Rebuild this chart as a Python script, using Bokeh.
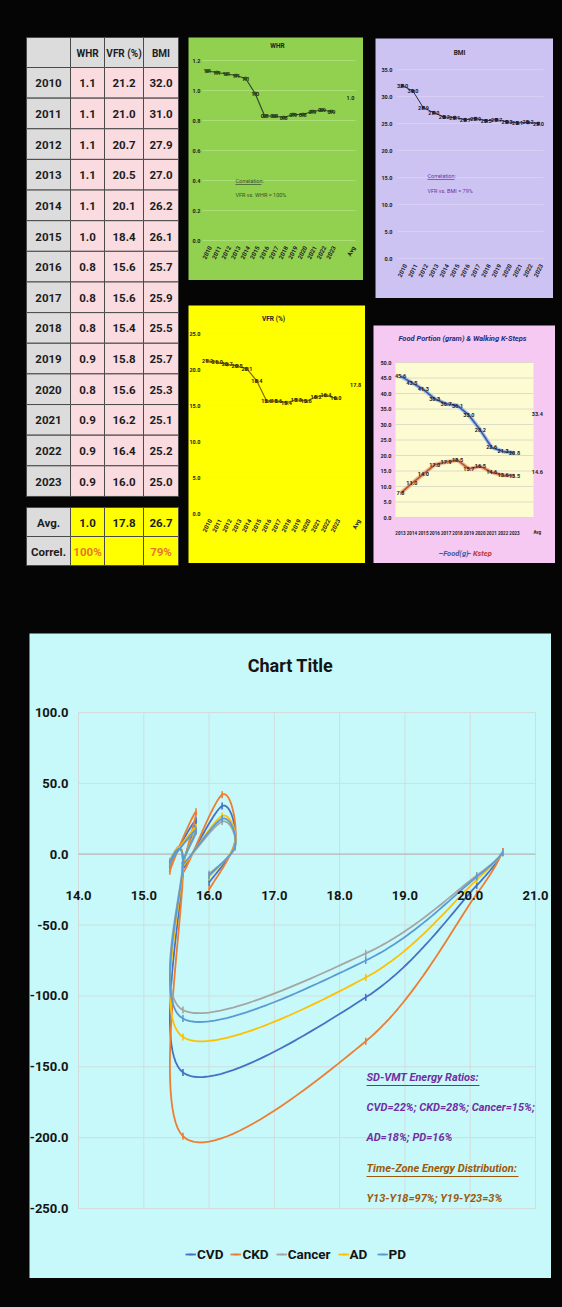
import math
from bokeh.plotting import figure
from bokeh.models import Range1d, Label, Legend, LegendItem, Spacer
from bokeh.layouts import column, row
from bokeh.core.properties import value
from bokeh.embed import file_html
from bokeh.resources import INLINE

FONT = "Roboto"

# ---------------- data ----------------
years = ["2010", "2011", "2012", "2013", "2014", "2015", "2016",
         "2017", "2018", "2019", "2020", "2021", "2022", "2023"]
whr_tab = ["1.1", "1.1", "1.1", "1.1", "1.1", "1.0", "0.8",
           "0.8", "0.8", "0.9", "0.8", "0.9", "0.9", "0.9"]
vfr_tab = ["21.2", "21.0", "20.7", "20.5", "20.1", "18.4", "15.6",
           "15.6", "15.4", "15.8", "15.6", "16.2", "16.4", "16.0"]
bmi_tab = ["32.0", "31.0", "27.9", "27.0", "26.2", "26.1", "25.7",
           "25.9", "25.5", "25.7", "25.3", "25.1", "25.2", "25.0"]
table_header = ["", "WHR", "VFR (%)", "BMI"]
avg_row = ["Avg.", "1.0", "17.8", "26.7"]
correl_row = ["Correl.", "100%", "", "79%"]

whr_values = [1.13, 1.12, 1.11, 1.10, 1.08, 0.98, 0.83,
              0.83, 0.82, 0.84, 0.84, 0.86, 0.87, 0.86]
whr_avg = 0.95
whr_yticks = [0.0, 0.2, 0.4, 0.6, 0.8, 1.0, 1.2]
vfr_values = [21.2, 21.0, 20.7, 20.5, 20.1, 18.4, 15.6,
              15.6, 15.4, 15.8, 15.6, 16.2, 16.4, 16.0]
vfr_avg = 17.8
vfr_yticks = [0, 5, 10, 15, 20, 25]
bmi_values = [32.0, 31.0, 27.9, 27.0, 26.2, 26.1, 25.7,
              25.9, 25.5, 25.7, 25.3, 25.1, 25.2, 25.0]
bmi_yticks = [0, 5, 10, 15, 20, 25, 30, 35]

food_years = ["2013", "2014", "2015", "2016", "2017", "2018",
              "2019", "2020", "2021", "2022", "2023"]
food_g = [45.6, 43.5, 41.3, 38.3, 36.7, 36.1, 33.0, 28.2, 22.6, 21.3, 20.8]
k_steps = [7.8, 11.0, 14.0, 17.0, 17.9, 18.5, 15.7, 16.5, 14.6, 13.6, 13.5]
food_avg = 33.4
kstep_avg = 14.6
food_yticks = [0, 5, 10, 15, 20, 25, 30, 35, 40, 45, 50]

# SD-VMT energy chart: x = VFR (2013..2023)
sd_vfr = [20.5, 20.1, 18.4, 15.6, 15.6, 15.4, 15.8, 15.6, 16.2, 16.4, 16.0]
cvd = [1.5, -22, -101, -154, -4, -8, 24, -10, 34, 8, -20]
ckd = [1.9, -28, -132, -199, -6, -12, 30, -13, 42, 10, -25]
cancer = [1.0, -15, -70, -110, -2, -5, 16, -7, 23, 5, -14]
ad = [1.2, -18, -87, -129, -3, -6, 19, -8, 27, 7, -16]
pdz = [1.1, -16, -75, -116, -3, -6, 17, -7, 25, 6, -15]
series_names = ["CVD", "CKD", "Cancer", "AD", "PD"]
series_colors = ["#4472c4", "#ed7d31", "#a5a5a5", "#ffc000", "#5b9bd5"]
big_xticks = [14, 15, 16, 17, 18, 19, 20, 21]
big_yticks = [-250, -200, -150, -100, -50, 0, 50, 100]

GREEN = "#92d050"
LAV = "#cdc3f3"
YEL = "#ffff00"
PINK = "#f5c9f1"
CYAN = "#c7f9fb"
BLACK = "#050505"


# ---------------- helpers ----------------
def smooth(xs, ys, n=30):
    pts = list(zip(xs, ys))
    m = len(pts)
    ox, oy = [], []
    for i in range(m - 1):
        p0 = pts[i - 1] if i > 0 else pts[i]
        p1, p2 = pts[i], pts[i + 1]
        p3 = pts[i + 2] if i + 2 < m else pts[i + 1]
        c1 = (p1[0] + (p2[0] - p0[0]) / 6, p1[1] + (p2[1] - p0[1]) / 6)
        c2 = (p2[0] - (p3[0] - p1[0]) / 6, p2[1] - (p3[1] - p1[1]) / 6)
        for k in range(n):
            t = k / n
            u = 1 - t
            ox.append(u**3 * p1[0] + 3 * u * u * t * c1[0] + 3 * u * t * t * c2[0] + t**3 * p2[0])
            oy.append(u**3 * p1[1] + 3 * u * u * t * c1[1] + 3 * u * t * t * c2[1] + t**3 * p2[1])
    ox.append(pts[-1][0])
    oy.append(pts[-1][1])
    return ox, oy


def panel(x0, y0, w, h, fx, fy, bg):
    """Figure whose frame is the whole panel; fx/fy = (px_a, val_a, px_b, val_b)."""
    ax_, av, bx_, bv = fx
    sx = (bv - av) / (bx_ - ax_)
    ay_, aval, by_, bval = fy
    sy = (bval - aval) / (by_ - ay_)

    def X(px):
        return av + (px - ax_) * sx

    def Y(py):
        return aval + (py - ay_) * sy

    p = figure(width=w, height=h, x_range=Range1d(X(x0), X(x0 + w)),
               y_range=Range1d(Y(y0 + h), Y(y0)), toolbar_location=None,
               output_backend="svg", title=None, x_axis_location=None,
               y_axis_location=None, min_border=0)
    p.grid.visible = False
    p.background_fill_color = bg
    p.border_fill_color = bg
    p.outline_line_color = None
    return p, X, Y


def hgrid(p, ticks, x_lo, x_hi, color, width=0.8):
    p.segment(x0=[x_lo] * len(ticks), y0=ticks, x1=[x_hi] * len(ticks), y1=ticks,
              line_color=color, line_width=width)


def txt(p, xs, ys, texts, size, color="#222222", style="bold", align="center",
        baseline="middle", angle=0.0):
    p.text(x=xs, y=ys, text=texts, text_font=value(FONT), text_font_size=size,
           text_font_style=style, text_color=color, text_align=align,
           text_baseline=baseline, angle=angle)


def lab(p, x, y, text, size, color="#222222", style="bold", align="left"):
    p.add_layout(Label(x=x, y=y, text=text, text_font=FONT, text_font_size=size,
                       text_font_style=style, text_color=color,
                       text_align=align, text_baseline="middle"))


# ---------------- table ----------------
tab = figure(width=188, height=633, x_range=Range1d(0, 188), y_range=Range1d(633, 0),
             toolbar_location=None, output_backend="svg", title=None,
             x_axis_location=None, y_axis_location=None, min_border=0)
tab.grid.visible = False
tab.background_fill_color = BLACK
tab.border_fill_color = BLACK
tab.outline_line_color = None

col_edges = [26, 70, 104, 143, 178]
rows = [("h", 37, 30, table_header)]
row_h = 30.64
for i in range(len(years)):
    rows.append(("d", 67 + i * row_h, row_h, [years[i], whr_tab[i], vfr_tab[i], bmi_tab[i]]))
rows.append(("a", 507, 29, avg_row))
rows.append(("c", 536, 29, correl_row))

ql, qr, qt, qb, qc = [], [], [], [], []
tx, ty, tt, tcol, tsize = [], [], [], [], []
for kind, top, h, cells in rows:
    for c in range(4):
        ql.append(col_edges[c])
        qr.append(col_edges[c + 1])
        qt.append(top)
        qb.append(top + h)
        if c == 0 or kind == "h":
            qc.append("#dcdcdc")
        elif kind == "d":
            qc.append("#f9dbe0")
        else:
            qc.append("#ffff00")
        tx.append((col_edges[c] + col_edges[c + 1]) / 2)
        ty.append(top + h / 2 + 0.5)
        tt.append(cells[c])
        tcol.append("#e8762c" if (kind == "c" and c > 0) else "#1c1c1c")
        tsize.append("10px" if kind == "h" else "11.5px")
tab.quad(left=ql, right=qr, top=qt, bottom=qb, fill_color=qc,
         line_color="#4a4a4a", line_width=1)
tab.text(x=tx, y=ty, text=tt, text_color=tcol, text_font=value(FONT),
         text_font_size=tsize, text_font_style="bold",
         text_align="center", text_baseline="middle")

idx14 = list(range(14))
idx16 = list(range(14)) + [15]
lab16 = years + ["Avg"]

# ---------------- WHR ----------------
whr, WX, WY = panel(188, 37, 175, 243, (207, 0, 216.53, 1), (240, 0.0, 60, 1.2), GREEN)
hgrid(whr, whr_yticks, WX(202), WX(355), "#b4e283")
whr.line(idx14, whr_values, line_color="#2e4f23", line_width=1.2)
whr.scatter(idx14, whr_values, marker="square", size=2.5, color="#2e4f23")
txt(whr, idx14, whr_values, whr_tab, "5.5px", color="#1e2e14")
txt(whr, [15], [whr_avg], [avg_row[1]], "5.5px", color="#1e2e14")
txt(whr, [WX(200)] * len(whr_yticks), whr_yticks, [f"{v:.1f}" for v in whr_yticks],
    "5.5px", align="right")
txt(whr, [i + 0.3 for i in idx16], [WY(246)] * len(idx16), lab16, "6px",
    align="right", angle=1.1)
lab(whr, 7.35, WY(45), "WHR", "6.5px", align="center")
lab(whr, WX(235), WY(180), "Correlation:", "5.5px", color="#34502a", style="normal")
lab(whr, WX(235), WY(194), "VFR vs. WHR = 100%", "5.5px", color="#34502a", style="normal")
whr.segment(x0=[WX(235)], y0=[WY(184)], x1=[WX(261)], y1=[WY(184)],
            line_color="#34502a", line_width=0.7)

# ---------------- VFR ----------------
vfr, VX, VY = panel(188, 305, 177, 258, (207, 0, 216.87, 1), (513, 0, 333, 25), YEL)
hgrid(vfr, vfr_yticks, VX(202), VX(360), "#eded70")
vfr.line(idx14, vfr_values, line_color="#806c00", line_width=1.2)
vfr.scatter(idx14, vfr_values, marker="square", size=2.5, color="#806c00")
txt(vfr, idx14, vfr_values, vfr_tab, "5.5px", color="#2a2400")
txt(vfr, [15], [vfr_avg], [avg_row[2]], "5.5px", color="#2a2400")
txt(vfr, [VX(200)] * len(vfr_yticks), vfr_yticks, [f"{v:.1f}" for v in vfr_yticks],
    "5.5px", align="right")
txt(vfr, [i + 0.3 for i in idx16], [VY(519)] * len(idx16), lab16, "6px",
    align="right", angle=1.1)
lab(vfr, 6.69, VY(318), "VFR (%)", "6.5px", align="center")

# ---------------- BMI ----------------
bmi, BX, BY = panel(375, 38, 178, 260, (402, 0, 412.46, 1), (258, 0, 69, 35), LAV)
hgrid(bmi, bmi_yticks, BX(397), BX(543), "#dad2f8")
bmi.line(idx14, bmi_values, line_color="#2b2b4a", line_width=1.0)
bmi.scatter(idx14, bmi_values, marker="square", size=2.5, color="#2b2b4a")
txt(bmi, idx14, bmi_values, bmi_tab, "5.5px", color="#1a1a2e")
txt(bmi, [BX(392)] * len(bmi_yticks), bmi_yticks, [f"{v:.1f}" for v in bmi_yticks],
    "5.5px", align="right")
txt(bmi, [i + 0.3 for i in idx14], [BY(264)] * len(idx14), years, "6px",
    align="right", angle=1.1)
lab(bmi, 5.45, BY(52), "BMI", "6.5px", align="center")
lab(bmi, BX(427), BY(175), "Correlation:", "5.5px", color="#7030a0", style="normal")
lab(bmi, BX(427), BY(190), "VFR vs. BMI = 79%", "5.5px", color="#7030a0", style="normal")
bmi.segment(x0=[BX(427)], y0=[BY(179)], x1=[BX(454)], y1=[BY(179)],
            line_color="#7030a0", line_width=0.7)

# ---------------- Food ----------------
idx11 = list(range(11))
food, FX, FY = panel(373, 325, 182, 238, (400, 0, 411.4, 1), (517, 0, 362, 50), PINK)
food.quad(left=[FX(395)], right=[FX(533)], bottom=[0], top=[50],
          fill_color="#fdfbd2", line_color=None)
hgrid(food, food_yticks, FX(395), FX(533), "#d6d6c4")
food.line(idx11, food_g, line_color="#a9c0ea", line_width=4)
food.line(idx11, food_g, line_color="#3c5aa0", line_width=1.6)
food.line(idx11, k_steps, line_color="#ecb898", line_width=4)
food.line(idx11, k_steps, line_color="#b5582f", line_width=1.6)
txt(food, idx11, food_g, [f"{v:.1f}" for v in food_g], "5.5px")
txt(food, idx11, k_steps, [f"{v:.1f}" for v in k_steps], "5.5px")
txt(food, [12, 12], [food_avg, kstep_avg], [f"{food_avg:.1f}", f"{kstep_avg:.1f}"], "5.5px")
txt(food, [FX(391)] * len(food_yticks), food_yticks, [f"{v:.1f}" for v in food_yticks],
    "5.5px", align="right")
txt(food, idx11 + [12], [FY(532)] * 12, food_years + ["Avg"], "4.5px")
lab(food, 5.44, FY(338), "Food Portion (gram) & Walking K-Steps", "7.5px",
    color="#1f2f7f", style="bold italic", align="center")
lab(food, FX(438), FY(553), "\u2013Food(g)", "7.5px", color="#3c5aa0", style="bold italic")
lab(food, FX(466), FY(553), "\u2013 Kstep", "7.5px", color="#c0392b", style="bold italic")

# ---------------- big SD-VMT chart ----------------
big, GX, GY = panel(29, 633, 522, 645, (78, 14, 535, 21), (1208, -250, 712, 100), CYAN)
hgrid(big, big_yticks, 14, 21, "#d2dcdc", 1)
big.segment(x0=big_xticks, y0=[-250] * len(big_xticks), x1=big_xticks,
            y1=[100] * len(big_xticks), line_color="#d2dcdc", line_width=1)
big.segment(x0=[14], y0=[0], x1=[21], y1=[0], line_color="#b4bcbc", line_width=1.3)

items = []
for name, ys, col in zip(series_names, [cvd, ckd, cancer, ad, pdz], series_colors):
    sx, sy = smooth(sd_vfr, ys)
    r1 = big.line(sx, sy, line_color=col, line_width=1.8)
    r2 = big.scatter(sd_vfr, ys, marker="dash", angle=math.pi / 2, size=7,
                     line_color=col, line_width=1.6)
    items.append(LegendItem(label=name, renderers=[r1, r2]))

txt(big, [GX(68)] * len(big_yticks), big_yticks, [f"{v:.1f}" for v in big_yticks],
    "13px", color="#141414", align="right")
txt(big, big_xticks, [GY(895)] * len(big_xticks), [f"{v:.1f}" for v in big_xticks],
    "13px", color="#141414")

leg = Legend(items=items, orientation="horizontal", location=(156, 16),
             label_text_font=FONT, label_text_font_size="13.5px",
             label_text_font_style="bold", label_text_color="#141414",
             glyph_width=11, glyph_height=14, label_standoff=1, spacing=7,
             padding=0, margin=0, background_fill_alpha=0, border_line_color=None)
big.add_layout(leg)

lab(big, GX(290), GY(665), "Chart Title", "18px", color="#141414", align="center")

PURPLE = "#7030a0"
BROWN = "#9c5a0a"
notes = [("SD-VMT Energy Ratios:", 1077, PURPLE),
         ("CVD=22%;  CKD=28%;  Cancer=15%;", 1107, PURPLE),
         ("AD=18%;  PD=16%", 1137, PURPLE),
         ("Time-Zone Energy Distribution:", 1168, BROWN),
         ("Y13-Y18=97%;  Y19-Y23=3%", 1198, BROWN)]
for text, py, col in notes:
    lab(big, GX(366), GY(py), text, "11px", color=col, style="bold italic")
big.segment(x0=[GX(366), GX(366)], y0=[GY(1085), GY(1176)],
            x1=[GX(479), GX(518)], y1=[GY(1085), GY(1176)],
            line_color=[PURPLE, BROWN], line_width=1)

# ---------------- layout ----------------
col_b = column(Spacer(width=177, height=37), whr, Spacer(width=177, height=25), vfr,
               Spacer(width=177, height=70))
col_c = column(Spacer(width=189, height=38), row(Spacer(width=2, height=260), bmi),
               Spacer(width=189, height=27), food, Spacer(width=189, height=70))
top = row(tab, col_b, Spacer(width=8, height=633), col_c)
bottom = row(Spacer(width=29, height=645), big, Spacer(width=11, height=645))
layout = column(top, bottom, Spacer(width=562, height=29),
                styles={"background-color": "#050505"})

open("out.html", "w").write(file_html(layout, INLINE))
